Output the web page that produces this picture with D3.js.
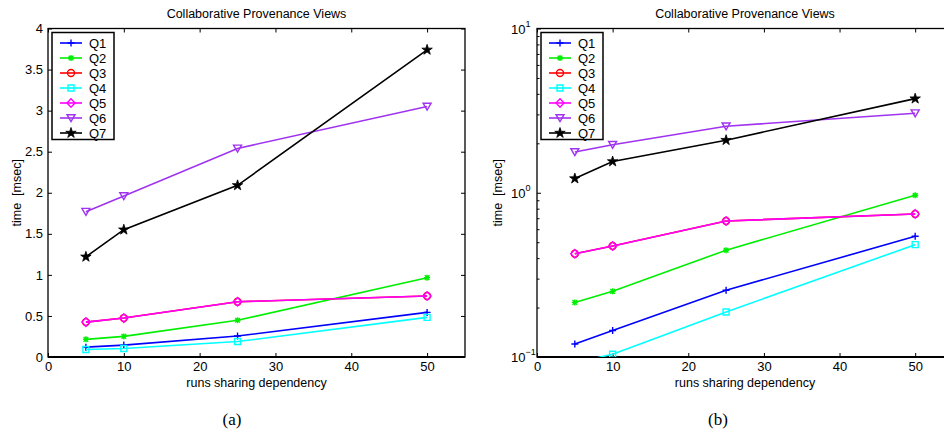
<!DOCTYPE html>
<html><head><meta charset="utf-8">
<script src="https://cdn.jsdelivr.net/npm/d3@7"></script>
<style>
body{margin:0;background:#fff;}
svg{display:block;}
text{font-family:"Liberation Sans",Arial,Helvetica,sans-serif;fill:#000;}
</style></head>
<body>
<svg id="c" width="944" height="431"></svg>
<script>
const xValues = [5, 10, 25, 50];
const seriesNames = ["Q1","Q2","Q3","Q4","Q5","Q6","Q7"];
const q1 = [0.12, 0.145, 0.255, 0.543];
const q2 = [0.215, 0.251, 0.447, 0.966];
const q3 = [0.425, 0.474, 0.673, 0.743];
const q4 = [0.092, 0.104, 0.188, 0.483];
const q5 = [0.425, 0.474, 0.673, 0.743];
const q6 = [1.77, 1.96, 2.54, 3.05];
const q7 = [1.22, 1.55, 2.09, 3.74];
const seriesColors = ["#0000ff","#00ee00","#ff0000","#00ffff","#ff00ff","#a033f0","#000000"];
const seriesMarkers = ["plus","asterisk","circle","square","diamond","triangle","star"];
const xTicks = [0, 10, 20, 30, 40, 50];
const linearYTicks = [0, 0.5, 1, 1.5, 2, 2.5, 3, 3.5, 4];
const logYTicks = [0.1, 1, 10];
const logExponents = ["\u22121", "0", "1"];
const titleText = "Collaborative Provenance Views";
const xLabelText = "runs sharing dependency";
const yLabelText = "time  [msec]";
const panelLabels = ["(a)", "(b)"];

const allSeries = [q1,q2,q3,q4,q5,q6,q7];
const svg = d3.select("#c");

function markerPath(type) {
  switch (type) {
    case "plus": return "M-3.5,0H3.5M0,-3.5V3.5";
    case "asterisk": return "M-3,0H3M0,-3V3M-2.3,-2.3L2.3,2.3M-2.3,2.3L2.3,-2.3";
    case "circle": return d3.symbol(d3.symbolCircle, 38)();
    case "square": return "M-3,-3H3V3H-3Z";
    case "diamond": return "M0,-4.3L4,0L0,4.3L-4,0Z";
    case "triangle": return "M-4,-3.3H4L0,3.6Z";
    case "star": return d3.symbol(d3.symbolStar, 34)();
  }
}

function drawMarker(g, type, color, x, y) {
  g.append("path").attr("d", markerPath(type))
    .attr("transform", `translate(${x},${y})`)
    .attr("fill", type === "star" ? color : "none")
    .attr("stroke", color).attr("stroke-width", type === "star" ? 0.8 : 1.4);
}

function panel(idx, left, right, isLog) {
  const top = 28.5, bottom = 357;
  const g = svg.append("g");
  const x = d3.scaleLinear().domain([0, 55]).range([left, right]);
  const y = isLog ? d3.scaleLog().domain([0.1, 10]).range([bottom, top])
                  : d3.scaleLinear().domain([0, 4]).range([bottom, top]);
  const clipId = "clip" + idx;
  svg.append("clipPath").attr("id", clipId).append("rect")
    .attr("x", left).attr("y", top).attr("width", right - left).attr("height", bottom - top);

  g.append("g").attr("transform", `translate(0,${bottom})`)
    .call(d3.axisBottom(x).tickValues(xTicks).tickSizeInner(-4).tickSizeOuter(0).tickPadding(5).tickFormat(d3.format("d")));
  g.append("g").attr("transform", `translate(0,${top})`)
    .call(d3.axisTop(x).tickValues(xTicks).tickSizeInner(-4).tickSizeOuter(0).tickFormat(""));
  if (!isLog) {
    g.append("g").attr("transform", `translate(${left},0)`)
      .call(d3.axisLeft(y).tickValues(linearYTicks).tickSizeInner(-4).tickSizeOuter(0).tickPadding(5).tickFormat(d => d3.format("")(d)));
    g.append("g").attr("transform", `translate(${right},0)`)
      .call(d3.axisRight(y).tickValues(linearYTicks).tickSizeInner(-4).tickSizeOuter(0).tickFormat(""));
  } else {
    const minor = [];
    [0.1, 1].forEach(b => { for (let k = 2; k <= 9; k++) minor.push(b * k); });
    g.append("g").attr("transform", `translate(${left},0)`)
      .call(d3.axisLeft(y).tickValues(logYTicks).tickSizeInner(-4).tickSizeOuter(0).tickFormat(""));
    g.append("g").attr("transform", `translate(${left},0)`)
      .call(d3.axisLeft(y).tickValues(minor).tickSizeInner(-2.5).tickSizeOuter(0).tickFormat(""));
    g.append("g").attr("transform", `translate(${right},0)`)
      .call(d3.axisRight(y).tickValues(logYTicks).tickSizeInner(-4).tickSizeOuter(0).tickFormat(""));
    g.append("g").attr("transform", `translate(${right},0)`)
      .call(d3.axisRight(y).tickValues(minor).tickSizeInner(-2.5).tickSizeOuter(0).tickFormat(""));
    logYTicks.forEach((v, i) => {
      const t = g.append("text").attr("x", left - 26).attr("y", y(v) + 5)
        .attr("text-anchor", "start").attr("font-size", 13);
      t.append("tspan").text("10");
      t.append("tspan").attr("dy", -7).attr("font-size", 9).text(logExponents[i]);
    });
  }
  g.selectAll(".domain").remove();
  g.selectAll(".tick line").attr("stroke", "#000");
  g.selectAll(".tick text").attr("font-size", 13).attr("font-family", '"Liberation Sans",Arial,sans-serif');

  g.append("rect").attr("x", left).attr("y", top).attr("width", right - left).attr("height", bottom - top)
    .attr("fill", "none").attr("stroke", "#000").attr("stroke-width", 1.3);
  g.append("line").attr("x1", left).attr("x2", right).attr("y1", bottom).attr("y2", bottom)
    .attr("stroke", "#000").attr("stroke-width", 2);

  const pg = g.append("g").attr("clip-path", `url(#${clipId})`);
  const line = d3.line().x((d, i) => x(xValues[i])).y(d => y(d));
  allSeries.forEach((s, si) => {
    pg.append("path").datum(s).attr("d", line).attr("fill", "none")
      .attr("stroke", seriesColors[si]).attr("stroke-width", 1.6);
    s.forEach((v, i) => drawMarker(pg, seriesMarkers[si], seriesColors[si], x(xValues[i]), y(v)));
  });

  const lx = left + 4, ly = top + 4, lw = 62, lh = 107;
  const lg = g.append("g");
  lg.append("rect").attr("x", lx).attr("y", ly).attr("width", lw).attr("height", lh)
    .attr("fill", "#fff").attr("stroke", "#000").attr("stroke-width", 1.5);
  seriesNames.forEach((n, i) => {
    const yy = ly + 10.5 + i * 15;
    lg.append("line").attr("x1", lx + 8).attr("x2", lx + 30).attr("y1", yy).attr("y2", yy)
      .attr("stroke", seriesColors[i]).attr("stroke-width", 1.6);
    drawMarker(lg, seriesMarkers[i], seriesColors[i], lx + 19, yy);
    lg.append("text").attr("x", lx + 37).attr("y", yy + 5).attr("font-size", 13).text(n);
  });

  const cx = (left + right) / 2;
  g.append("text").attr("x", cx).attr("y", 18).attr("text-anchor", "middle").attr("font-size", 12.5).text(titleText);
  g.append("text").attr("x", cx).attr("y", 387).attr("text-anchor", "middle").attr("font-size", 12.5).text(xLabelText);
  g.append("text").attr("transform", `translate(${idx === 0 ? left - 27 : left - 35},${(top + bottom) / 2}) rotate(-90)`)
    .attr("text-anchor", "middle").attr("font-size", 12.5).attr("xml:space", "preserve")
    .style("white-space", "pre").text(yLabelText);
  g.append("text").attr("x", idx === 0 ? 232 : 718).attr("y", 425).attr("text-anchor", "middle")
    .attr("font-size", 17).style("font-family", '"Liberation Serif","Times New Roman",serif').text(panelLabels[idx]);
}

panel(0, 48, 465, false);
panel(1, 537, 953, true);
</script>
</body></html>
